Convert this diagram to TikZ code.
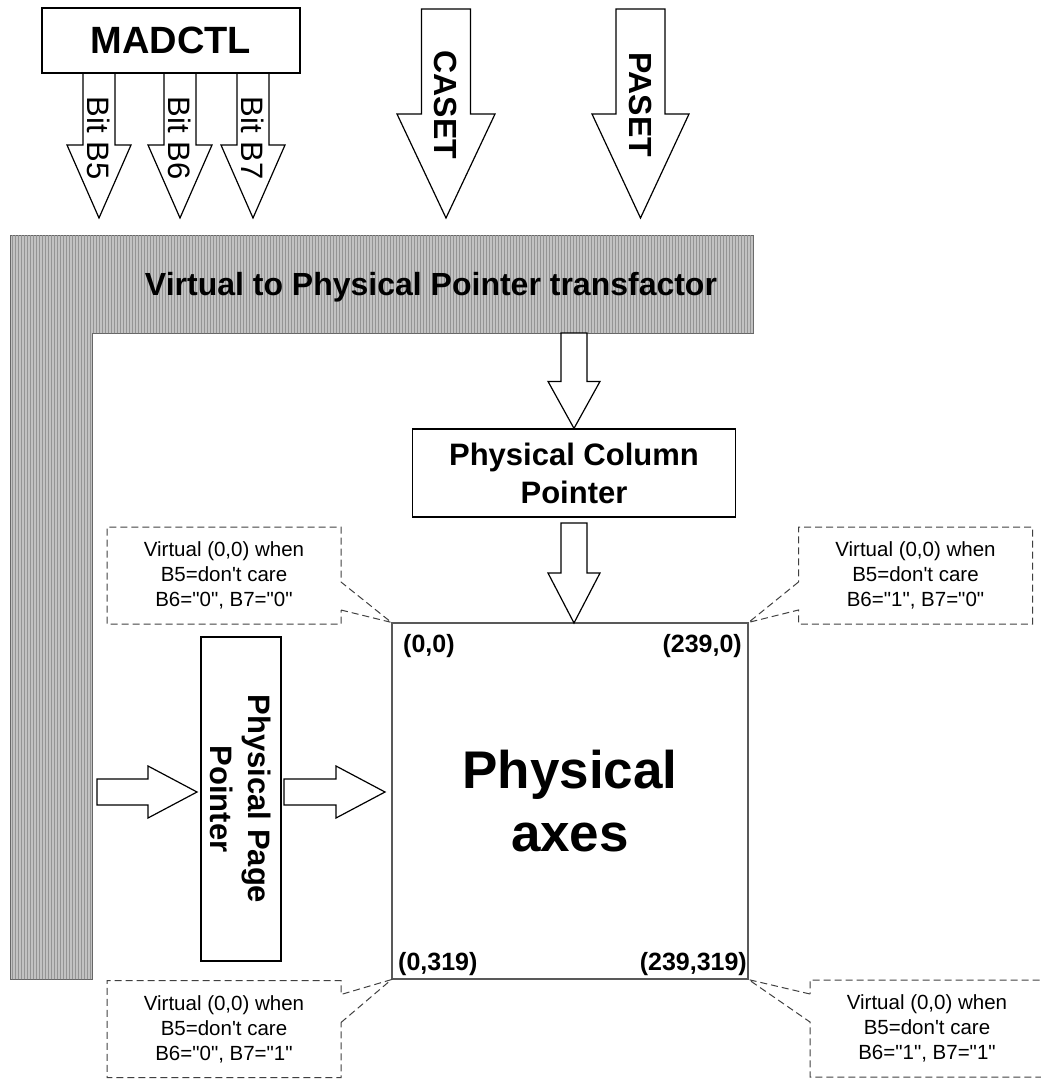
\documentclass[tikz,border=0pt]{standalone}
\usepackage{fontspec}
\setmainfont{Liberation Sans}
\usetikzlibrary{calc,patterns,shapes.callouts}
\tikzset{
  box/.style={draw=black,line width=1.2pt,fill=white,inner sep=0pt},
  fatline/.style={draw=black,line width=1.2pt,fill=white,line join=miter},
  barpath/.style={fill=black!24,draw=black!60,line width=1pt,
    postaction={pattern=vertical lines,pattern color=black!42}},
  titlefont/.style={font=\fontsize{38}{44}\selectfont\bfseries},
  cmdfont/.style={font=\fontsize{32}{38}\selectfont\bfseries,rotate=-90,inner sep=0pt},
  bitfont/.style={font=\fontsize{31}{37}\selectfont,rotate=-90,inner sep=0pt},
  ptrfont/.style={font=\fontsize{31}{38}\selectfont\bfseries,align=center},
  corner/.style={font=\fontsize{25}{30}\selectfont\bfseries,inner sep=0pt},
  note/.style={rectangle callout,draw=black!75,line width=1pt,dash pattern=on 7pt off 4pt,
    align=center,minimum width=234pt,minimum height=97pt,callout pointer width=28pt,
    font=\fontsize{20.5}{25}\selectfont,inner sep=0pt}
}
\newcommand{\qq}{\textquotedbl}
% block arrow: from, to, shaft half width, head half width, head length
\newcommand{\fatarrow}[5]{%
  \coordinate (fa-n) at ($(#2)!#5!(#1)$);
  \draw[fatline] ($(#1)!#3!90:(#2)$) -- ($(fa-n)!#3!-90:(#1)$) -- ($(fa-n)!#4!-90:(#1)$)
    -- (#2) -- ($(fa-n)!#4!90:(#1)$) -- ($(fa-n)!#3!90:(#1)$) -- ($(#1)!#3!-90:(#2)$) -- cycle;}

\begin{document}
\begin{tikzpicture}[x=1pt,y=-1pt]
  \useasboundingbox (0,0) rectangle (1041,1079);
  % pointer transfactor bar
  \path[barpath] (10,235) -- (753,235) -- (753,333) -- (92,333) -- (92,979) -- (10,979) -- cycle;
  \node[font=\fontsize{32}{38}\selectfont\bfseries,anchor=base] (xfer) at (431,295) {Virtual to Physical Pointer transfactor};
  % inputs
  \foreach \b/\x in {5/99,6/180,7/253}{
    \fatarrow{\x,73}{\x,218}{16pt}{32pt}{73pt}
    \node[bitfont] (bit\b) at (\x,138) {Bit B\b};
  }
  \node[box,titlefont,minimum width=258pt,minimum height=65pt] (madctl) at (171,40.5) {MADCTL};
  \fatarrow{446,9}{446,218}{24.5pt}{49pt}{104pt}
  \node[cmdfont] (caset) at (446,105) {CASET};
  \fatarrow{640.5,9}{640.5,218}{24.5pt}{48.5pt}{104pt}
  \node[cmdfont] (paset) at (640.5,105) {PASET};
  % pointers
  \node[box,ptrfont,minimum width=323pt,minimum height=88pt] (colptr) at (574,473) {Physical Column\\Pointer};
  \node[box,ptrfont,rotate=-90,minimum width=324pt,minimum height=80pt] (pageptr) at (241,799) {Physical Page\\Pointer};
  \node[draw=black!65,line width=1.2pt,minimum width=356pt,minimum height=356pt,inner sep=0pt,
    font=\fontsize{53}{63}\selectfont\bfseries,align=center] (axes) at (570,801) {Physical\\axes};
  \fatarrow{574,333}{colptr.north}{13pt}{26pt}{47pt}
  \fatarrow{574,523}{574,623}{13pt}{26pt}{50pt}
  \fatarrow{97,792}{197,792}{13pt}{26pt}{49pt}
  \fatarrow{284,792}{385,792}{13pt}{26pt}{49pt}
  % corners
  \node[corner,anchor=base west] (c00) at (403,652) {(0,0)};
  \node[corner,anchor=base east] (c2390) at (742,652) {(239,0)};
  \node[corner,anchor=base west] (c0319) at (398,970) {(0,319)};
  \node[corner,anchor=base east] (c239319) at (747,970) {(239,319)};
  % notes
  \node[note,callout absolute pointer={(axes.north west)}] (n00) at (224,575.5)
    {Virtual (0,0) when\\B5=don\textquotesingle t care\\B6=\qq0\qq, B7=\qq0\qq};
  \node[note,callout absolute pointer={(axes.north east)}] (n2390) at (915.5,575.5)
    {Virtual (0,0) when\\B5=don\textquotesingle t care\\B6=\qq1\qq, B7=\qq0\qq};
  \node[note,callout absolute pointer={(axes.south west)}] (n0319) at (224,1029)
    {Virtual (0,0) when\\B5=don\textquotesingle t care\\B6=\qq0\qq, B7=\qq1\qq};
  \node[note,callout absolute pointer={(axes.south east)}] (n239319) at (927,1028.5)
    {Virtual (0,0) when\\B5=don\textquotesingle t care\\B6=\qq1\qq, B7=\qq1\qq};
\end{tikzpicture}
\end{document}
